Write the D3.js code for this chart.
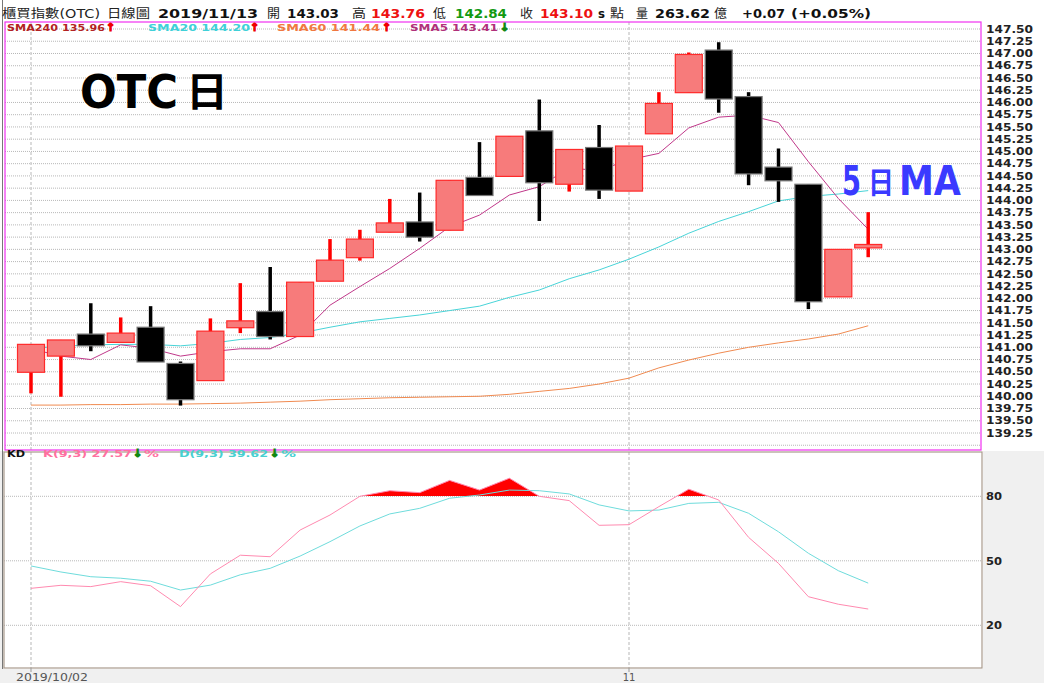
<!DOCTYPE html>
<html><head><meta charset="utf-8">
<script src="https://cdn.jsdelivr.net/npm/d3@7"></script>
<style>body{margin:0;background:#fff;} svg{display:block;}</style>
</head><body><svg id="c" width="1044" height="683"></svg>
<script>
// ---------------- DATA ----------------
const dates = ["2019/10/02","2019/10/03","2019/10/04","2019/10/07","2019/10/08","2019/10/09","2019/10/14","2019/10/15","2019/10/16","2019/10/17","2019/10/18","2019/10/21","2019/10/22","2019/10/23","2019/10/24","2019/10/25","2019/10/28","2019/10/29","2019/10/30","2019/10/31","2019/11/01","2019/11/04","2019/11/05","2019/11/06","2019/11/07","2019/11/08","2019/11/11","2019/11/12","2019/11/13"];
const openV  = [140.49,140.82,141.27,141.10,141.41,140.67,140.32,141.40,141.73,141.22,142.35,142.83,143.35,143.56,143.39,144.47,144.49,145.42,144.33,145.08,144.19,145.36,146.20,147.07,146.12,144.68,144.33,142.03,143.03];
const highV  = [141.06,141.15,141.90,141.61,141.84,140.71,141.59,142.31,142.64,142.33,143.21,143.40,144.03,144.16,144.41,145.19,145.31,146.06,145.04,145.54,145.11,146.21,147.02,147.23,146.21,145.06,144.33,143.00,143.76];
const lowV   = [140.06,139.99,140.92,141.10,140.70,139.81,140.32,141.29,141.16,141.22,142.35,142.77,143.35,143.16,143.39,144.10,144.49,143.58,144.18,144.03,144.19,145.36,146.20,145.79,144.31,143.97,141.78,142.03,142.84];
const closeV = [141.06,141.15,141.03,141.29,140.70,139.93,141.33,141.54,141.22,142.33,142.78,143.21,143.54,143.25,144.41,144.10,145.31,144.36,145.04,144.21,145.11,145.98,146.98,146.07,144.54,144.40,141.93,143.00,143.10];
const sma5   = [140.97,140.82,140.75,141.05,140.98,140.82,140.91,140.97,140.97,141.25,141.86,142.24,142.61,143.02,143.46,143.70,144.11,144.28,144.66,144.61,144.83,144.96,145.48,145.70,145.74,145.59,144.79,144.04,143.41];
const sma20  = [140.98,141.02,141.05,141.06,141.06,141.03,141.08,141.16,141.20,141.29,141.41,141.52,141.59,141.66,141.75,141.84,142.02,142.17,142.40,142.58,142.80,143.05,143.33,143.57,143.77,143.99,144.08,144.13,144.20];
const sma60  = [139.82,139.82,139.83,139.83,139.84,139.84,139.85,139.86,139.88,139.90,139.93,139.95,139.97,139.98,139.99,140.00,140.04,140.10,140.16,140.25,140.37,140.58,140.74,140.88,141.00,141.09,141.17,141.27,141.44];
const kV     = [37.2,38.6,38.0,40.3,38.4,28.7,43.9,52.6,51.9,64.3,71.3,80.0,82.6,81.7,87.4,82.9,88.4,80.0,78.0,66.5,66.8,75.2,83.3,78.3,60.9,48.8,33.3,29.8,27.57];
const dV     = [47.6,44.8,42.6,41.9,40.5,36.4,38.7,43.5,46.5,52.2,58.9,66.2,71.8,74.4,79.1,80.6,82.9,82.6,81.1,76.0,73.2,73.6,76.7,77.2,72.1,63.5,53.5,45.4,39.62];
const priceTicks = [139.25,139.50,139.75,140.00,140.25,140.50,140.75,141.00,141.25,141.50,141.75,142.00,142.25,142.50,142.75,143.00,143.25,143.50,143.75,144.00,144.25,144.50,144.75,145.00,145.25,145.50,145.75,146.00,146.25,146.50,146.75,147.00,147.25,147.50];
const priceGrid = [139.00].concat(priceTicks);
const kdTicks = [20,50,80];
const dateTicks = ["2019/10/02","2019/11/01"];
const dateTickLabels = ["2019/10/02","11"];

// ---------------- LAYOUT ----------------
const svg = d3.select("#c");
const FONT = "'DejaVu Sans','Noto Sans CJK TC',sans-serif";
const main = {l:5, r:981, t:22, b:450};
const kd = {l:4, r:982, t:452, b:668};

const x = d3.scalePoint().domain(dates).range([31, 31 + 28*29.9]);
const y = d3.scaleLinear().domain([139.25,147.5]).range([433,29]);
const ky = d3.scaleLinear().domain([20,80]).range([625.3,496.3]);

// backgrounds
svg.append("rect").attr("x",0).attr("y",0).attr("width",1044).attr("height",683).attr("fill","#fff");
svg.append("rect").attr("x",983).attr("y",451).attr("width",61).attr("height",232).attr("fill","#f0f0f0");
svg.append("rect").attr("x",0).attr("y",669).attr("width",1044).attr("height",14).attr("fill","#f0f0f0");
svg.append("rect").attr("x",0).attr("y",451).attr("width",4).attr("height",232).attr("fill","#f0f0f0");

// clip paths
const defs = svg.append("defs");
defs.append("clipPath").attr("id","mainClip").append("rect")
  .attr("x",main.l).attr("y",main.t).attr("width",main.r-main.l).attr("height",main.b-main.t);
defs.append("clipPath").attr("id","kdAbove").append("rect")
  .attr("x",kd.l).attr("y",kd.t).attr("width",kd.r-kd.l).attr("height",Math.floor(ky(80))-kd.t);

// ---------------- KD fill (under grid) ----------------
const kx = (d,i)=>x(dates[i]);
const gK = svg.append("g");
gK.append("path").attr("clip-path","url(#kdAbove)")
  .attr("d",d3.area().x(kx).y0(ky(80)).y1(d=>ky(d))(kV))
  .attr("fill","#ff0000");

// grid lines main
const gMain = svg.append("g");
gMain.selectAll("line.grid").data(priceGrid).join("line")
  .attr("x1",main.l).attr("x2",main.r).attr("y1",d=>y(d)).attr("y2",d=>y(d))
  .attr("stroke","#b8b8b8").attr("stroke-width",1).attr("stroke-dasharray","1,1");
// kd grid
svg.append("g").selectAll("line").data(kdTicks).join("line")
  .attr("x1",kd.l).attr("x2",kd.r).attr("y1",d=>ky(d)).attr("y2",d=>ky(d))
  .attr("stroke","#b8b8b8").attr("stroke-dasharray","1,1");
// vertical date lines
svg.append("g").selectAll("line").data(dateTicks).join("line")
  .attr("x1",d=>x(d)).attr("x2",d=>x(d)).attr("y1",main.t).attr("y2",kd.b)
  .attr("stroke","#cfcfcf").attr("stroke-width",1.5).attr("stroke-dasharray","3,2");

// ---------------- MA lines ----------------
const lineOf = arr => d3.line().x((d,i)=>x(dates[i])).y(d=>y(d))(arr);
const gLines = svg.append("g").attr("clip-path","url(#mainClip)");
gLines.append("path").attr("d",lineOf(sma60)).attr("fill","none").attr("stroke","#f08a50").attr("stroke-width",1);
gLines.append("path").attr("d",lineOf(sma20)).attr("fill","none").attr("stroke","#48d4d8").attr("stroke-width",1);

// ---------------- Candles ----------------
const idx = d3.range(dates.length);
const gC = svg.append("g");
const up = i => closeV[i] >= openV[i];
gC.selectAll("line.wick").data(idx).join("line")
  .attr("x1",i=>x(dates[i])).attr("x2",i=>x(dates[i]))
  .attr("y1",i=>y(highV[i])).attr("y2",i=>y(lowV[i]))
  .attr("stroke",i=>up(i)?"#ff0000":"#000").attr("stroke-width",3.5);
const bw = 27;
gC.selectAll("rect.body").data(idx).join("rect")
  .attr("x",i=>x(dates[i])-bw/2).attr("width",bw)
  .attr("y",i=>y(Math.max(openV[i],closeV[i])))
  .attr("height",i=>Math.max(2,Math.abs(y(openV[i])-y(closeV[i]))))
  .attr("fill",i=>up(i)?"#f77b7b":"#000")
  .attr("stroke",i=>up(i)?"#ff2a2a":"#777")
  .attr("stroke-width",1.2);

// SMA5 on top
gLines.append("path").attr("d",lineOf(sma5)).attr("fill","none").attr("stroke","#c0388a").attr("stroke-width",1);

// main frame
svg.append("rect").attr("x",main.l).attr("y",main.t).attr("width",main.r-main.l).attr("height",main.b-main.t)
  .attr("fill","none").attr("stroke","#f030f0").attr("stroke-width",1.2);

// right price axis
const axR = d3.axisRight(y).tickValues(priceTicks).tickFormat(d3.format(".2f")).tickSize(0).tickPadding(0);
const gAx = svg.append("g").attr("transform","translate(986,0)").call(axR);
gAx.select(".domain").remove();
gAx.selectAll("text").attr("font-family",FONT).attr("font-weight","bold").attr("font-size",10)
  .attr("fill","#222").attr("textLength",47).attr("lengthAdjust","spacingAndGlyphs");

// ---------------- KD lines ----------------
gK.append("path").attr("d",d3.line().x(kx).y(d=>ky(d))(dV)).attr("fill","none").attr("stroke","#6fdcdc").attr("stroke-width",1);
gK.append("path").attr("d",d3.line().x(kx).y(d=>ky(d))(kV)).attr("fill","none").attr("stroke","#ff8ab0").attr("stroke-width",1);
svg.node().appendChild(gK.node());

svg.append("rect").attr("x",kd.l).attr("y",kd.t).attr("width",kd.r-kd.l).attr("height",kd.b-kd.t)
  .attr("fill","none").attr("stroke","#a89a8c").attr("stroke-width",1.2);

const axK = d3.axisRight(ky).tickValues(kdTicks).tickFormat(d3.format("d")).tickSize(0).tickPadding(0);
const gAk = svg.append("g").attr("transform","translate(986,0)").call(axK);
gAk.select(".domain").remove();
gAk.selectAll("text").attr("font-family",FONT).attr("font-weight","bold").attr("font-size",10)
  .attr("fill","#222").attr("textLength",16).attr("lengthAdjust","spacingAndGlyphs");

// date axis
svg.append("g").selectAll("line").data(dateTicks).join("line")
  .attr("x1",d=>x(d)).attr("x2",d=>x(d)).attr("y1",kd.b).attr("y2",kd.b+4).attr("stroke","#999");
svg.append("text").attr("x",16).attr("y",681).text(dateTickLabels[0])
  .attr("font-family",FONT).attr("font-size",10).attr("fill","#555").attr("textLength",72).attr("lengthAdjust","spacingAndGlyphs");
svg.append("text").attr("x",x(dateTicks[1])).attr("y",681).attr("text-anchor","middle").text(dateTickLabels[1])
  .attr("font-family",FONT).attr("font-size",10).attr("fill","#555");

// left border
svg.append("line").attr("x1",2.5).attr("x2",2.5).attr("y1",0).attr("y2",669).attr("stroke","#777").attr("stroke-width",1);

// ---------------- Texts ----------------
function seg(g, txt, x0, w, color, bold, size, yb){
  const t = g.append("text").attr("x",x0).attr("y",yb).text(txt)
    .attr("font-family",FONT).attr("font-size",size).attr("fill",color)
    .attr("font-weight",bold?"bold":"normal");
  if (w) t.attr("textLength",w).attr("lengthAdjust","spacingAndGlyphs");
  return t;
}
function arrow(g, txt, x0, color, yb){
  return g.append("text").attr("x",x0).attr("y",yb).text(txt)
    .attr("font-family",FONT).attr("font-size",11).attr("font-weight","bold")
    .attr("fill",color).attr("stroke",color).attr("stroke-width",1.1);
}
const hdr = svg.append("g");
const HY = 18;
seg(hdr,"櫃買指數(OTC)",2,98,"#222",false,12,HY);
seg(hdr,"日線圖",107,43,"#222",false,12,HY);
seg(hdr,"2019/11/13",158,100,"#111",true,12,HY);
seg(hdr,"開",267,13,"#222",false,12,HY);
seg(hdr,"143.03",287,52,"#111",true,12,HY);
seg(hdr,"高",352,14,"#222",false,12,HY);
seg(hdr,"143.76",371,54,"#ee1111",true,12,HY);
seg(hdr,"低",433,13,"#222",false,12,HY);
seg(hdr,"142.84",455,52,"#119911",true,12,HY);
seg(hdr,"收",520,13,"#222",false,12,HY);
seg(hdr,"143.10",540,53,"#ee1111",true,12,HY);
seg(hdr,"s",598,7,"#111",true,12,HY);
seg(hdr,"點",610,14,"#222",false,12,HY);
seg(hdr,"量",636,12,"#222",false,12,HY);
seg(hdr,"263.62",655,55,"#111",true,12,HY);
seg(hdr,"億",714,13,"#222",false,12,HY);
seg(hdr,"+0.07",742,43,"#111",true,12,HY);
seg(hdr,"(+0.05%)",791,80,"#111",true,12,HY);

const LY = 31;
seg(hdr,"SMA240 135.96",7,98,"#b22222",true,9.5,LY);
arrow(hdr,"↑",106,"#ee0000",LY);
seg(hdr,"SMA20 144.20",148,102,"#40d0d8",true,9.5,LY);
arrow(hdr,"↑",250,"#ee0000",LY);
seg(hdr,"SMA60 141.44",277,103,"#f07840",true,9.5,LY);
arrow(hdr,"↑",382,"#ee0000",LY);
seg(hdr,"SMA5 143.41",410,88,"#b0307a",true,9.5,LY);
arrow(hdr,"↓",500,"#118811",LY);

const KY = 457;
seg(hdr,"KD",7,18,"#111",true,9.5,KY);
seg(hdr,"K(9,3) 27.57",43,89,"#ff70a0",true,9.5,KY);
arrow(hdr,"↓",133,"#118811",KY);
seg(hdr,"%",144,15,"#ff70a0",true,9.5,KY);
seg(hdr,"D(9,3) 39.62",179,89,"#48d0d0",true,9.5,KY);
arrow(hdr,"↓",270,"#118811",KY);
seg(hdr,"%",281,15,"#48d0d0",true,9.5,KY);

// big annotations
seg(hdr,"OTC",80,98,"#000",true,46,108);
seg(hdr,"日",186,42,"#000",true,40,106);
seg(hdr,"5",842,19,"#3a3aff",true,40,195);
seg(hdr,"日",868,26,"#3a3aff",true,30,193);
seg(hdr,"MA",899,62,"#3a3aff",true,40,195);
</script></body></html>
